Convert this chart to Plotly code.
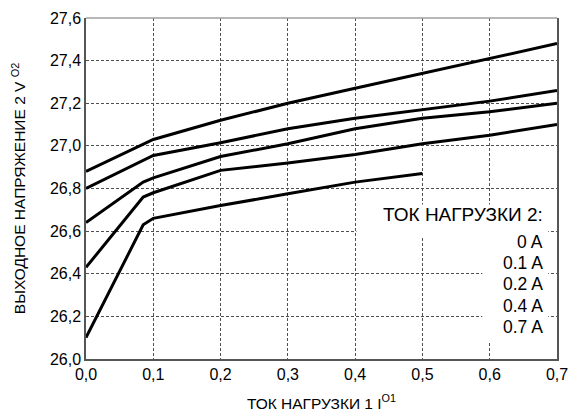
import plotly.graph_objects as go

# Data
x_common = [0.0, 0.085, 0.1, 0.2, 0.3, 0.4, 0.5, 0.6, 0.7]
v_0A = [26.88, 27.01, 27.03, 27.12, 27.20, 27.27, 27.34, 27.41, 27.48]
v_01A = [26.80, 26.93, 26.955, 27.015, 27.08, 27.13, 27.17, 27.21, 27.26]
v_02A = [26.64, 26.83, 26.85, 26.95, 27.01, 27.08, 27.13, 27.16, 27.20]
v_04A = [26.43, 26.76, 26.78, 26.885, 26.92, 26.96, 27.01, 27.05, 27.10]
x_07A = [0.0, 0.085, 0.1, 0.2, 0.3, 0.4, 0.5]
v_07A = [26.10, 26.63, 26.66, 26.72, 26.775, 26.83, 26.87]

series_names = ["0 A", "0.1 A", "0.2 A", "0.4 A", "0.7 A"]
legend_title = "ТОК НАГРУЗКИ 2:"

x_ticks = [0.0, 0.1, 0.2, 0.3, 0.4, 0.5, 0.6, 0.7]
x_ticktext = ["0,0", "0,1", "0,2", "0,3", "0,4", "0,5", "0,6", "0,7"]
y_ticks = [26.0, 26.2, 26.4, 26.6, 26.8, 27.0, 27.2, 27.4, 27.6]
y_ticktext = ["26,0", "26,2", "26,4", "26,6", "26,8", "27,0", "27,2", "27,4", "27,6"]

FONT = "Liberation Sans, Arial, sans-serif"

fig = go.Figure()
for xs, ys, name in [(x_common, v_0A, series_names[0]),
                     (x_common, v_01A, series_names[1]),
                     (x_common, v_02A, series_names[2]),
                     (x_common, v_04A, series_names[3]),
                     (x_07A, v_07A, series_names[4])]:
    fig.add_trace(go.Scatter(x=xs, y=ys, mode="lines", name=name,
                             line=dict(color="black", width=3),
                             showlegend=False))

# white boxes behind the legend text (hide gridlines)
fig.add_shape(type="rect", xref="x", yref="y", x0=0.402, x1=0.687, y0=26.571, y1=26.725,
              fillcolor="white", line=dict(width=0), layer="between")
fig.add_shape(type="rect", xref="x", yref="y", x0=0.589, x1=0.687, y0=26.084, y1=26.571,
              fillcolor="white", line=dict(width=0), layer="between")
# gray top border
fig.add_shape(type="line", xref="paper", yref="paper", x0=0, x1=1, y0=1, y1=1,
              line=dict(color="#a0a0a0", width=1.5), layer="above")

fig.add_annotation(x=0.682, y=26.68, xref="x", yref="y", text=legend_title,
                   showarrow=False, xanchor="right", yanchor="middle",
                   font=dict(family=FONT, size=19, color="black"))
item_y = [26.55, 26.45, 26.35, 26.247, 26.15]
for name, yy in zip(series_names, item_y):
    fig.add_annotation(x=0.682, y=yy, xref="x", yref="y", text=name,
                       showarrow=False, xanchor="right", yanchor="middle",
                       font=dict(family=FONT, size=17.5, color="black"))

fig.update_layout(
    width=570, height=412,
    margin=dict(l=86, r=13, t=18, b=53),
    paper_bgcolor="white", plot_bgcolor="white",
    font=dict(family=FONT, size=16, color="black"),
    showlegend=False,
)
fig.update_xaxes(
    range=[0, 0.7], tickvals=x_ticks, ticktext=x_ticktext,
    showgrid=True, gridcolor="#505050", griddash="3px,2px", gridwidth=1,
    showline=True, linecolor="#555555", linewidth=1.5, mirror=False,
    ticks="", zeroline=False, automargin=False,
    title=dict(text="ТОК НАГРУЗКИ 1 I<sup>O1</sup>", standoff=16,
               font=dict(family=FONT, size=15.5)),
    tickfont=dict(family=FONT, size=16),
)
fig.update_yaxes(
    range=[26.0, 27.6], tickvals=y_ticks, ticktext=y_ticktext,
    showgrid=True, gridcolor="#505050", griddash="3px,2px", gridwidth=1,
    showline=True, linecolor="#555555", linewidth=1.5, mirror=True,
    ticks="", zeroline=False, automargin=False,
    title=dict(text="ВЫХОДНОЕ НАПРЯЖЕНИЕ 2 V <sup>O2</sup>", standoff=20,
               font=dict(family=FONT, size=15.5)),
    tickfont=dict(family=FONT, size=16),
)

fig.write_html("out.html", config={"displayModeBar": False},
               post_script="document.body.style.margin='0px';")
